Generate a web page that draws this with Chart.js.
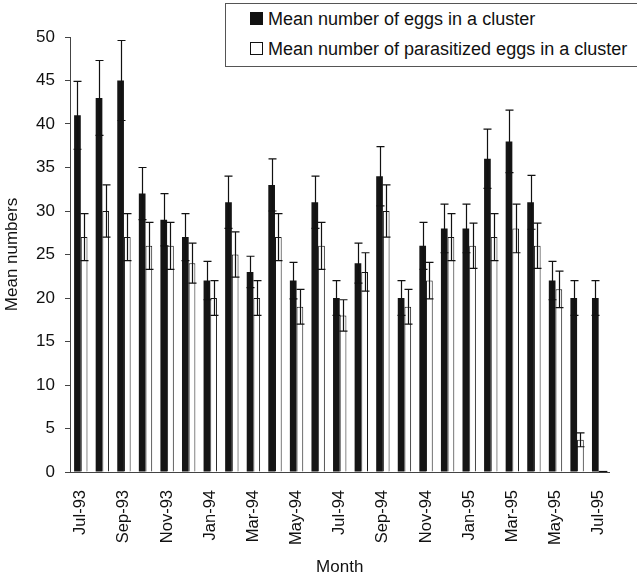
<!DOCTYPE html>
<html>
<head>
<meta charset="utf-8">
<script src="https://cdn.jsdelivr.net/npm/chart.js@4.4.1/dist/chart.umd.min.js"></script>
<style>
  html, body { margin: 0; padding: 0; background: #fff; overflow: hidden; }
  #wrap { position: relative; width: 637px; height: 582px; }
  #legend { position: absolute; left: 225px; top: 3px; width: 430px; height: 62px; border: 1px solid #555; background: #fff;
    font-family: "Liberation Sans", Arial, sans-serif; font-size: 18px; color: #111; }
  #legend div { position: absolute; left: 24px; white-space: nowrap; line-height: 20px; }
  #legend span.box { display: inline-block; width: 11px; height: 11px; border: 1px solid #111; margin-right: 5px; vertical-align: 0px; }
</style>
</head>
<body>
<div id="wrap">
  <canvas id="chart" width="637" height="582"></canvas>
  <div id="legend"></div>
</div>
<script>
const $ = id => document.getElementById(id);

// data
const months = ['Jul-93','Aug-93','Sep-93','Oct-93','Nov-93','Dec-93','Jan-94','Feb-94','Mar-94','Apr-94','May-94','Jun-94',
  'Jul-94','Aug-94','Sep-94','Oct-94','Nov-94','Dec-94','Jan-95','Feb-95','Mar-95','Apr-95','May-95','Jun-95','Jul-95'];
const eggs = [41, 43, 45, 32, 29, 27, 22, 31, 23, 33, 22, 31, 20, 24, 34, 20, 26, 28, 28, 36, 38, 31, 22, 20, 20];
const eggsErr = [3.9, 4.3, 4.6, 3.0, 3.0, 2.7, 2.2, 3.0, 1.8, 3.0, 2.1, 3.0, 2.0, 2.3, 3.4, 2.0, 2.7, 2.8, 2.8, 3.4, 3.6, 3.1, 2.2, 2.0, 2.0];
const parasit = [27, 30, 27, 26, 26, 24, 20, 25, 20, 27, 19, 26, 18, 23, 30, 19, 22, 27, 26, 27, 28, 26, 21, 3.7, 0];
const parasitErr = [2.7, 3.0, 2.7, 2.7, 2.7, 2.3, 2.0, 2.6, 2.0, 2.7, 2.0, 2.7, 1.8, 2.2, 3.0, 2.0, 2.1, 2.7, 2.6, 2.7, 2.8, 2.6, 2.1, 0.8, 0];
const yTicks = [0, 5, 10, 15, 20, 25, 30, 35, 40, 45, 50];

const seriesNames = ['Mean number of eggs in a cluster', 'Mean number of parasitized eggs in a cluster'];
const errs = [eggsErr, parasitErr];
const font = "'Liberation Sans', Arial, sans-serif";

// legend as html
$('legend').innerHTML = seriesNames.map((n, i) =>
  `<div style="top:${i ? 35 : 5}px"><span class="box" style="background:${i ? '#fff' : '#111'}"></span>${n}</div>`).join('');

const errorBars = {
  id: 'errorBars',
  afterDatasetsDraw(chart) {
    const ctx = chart.ctx, y = chart.scales.y;
    ctx.save();
    ctx.strokeStyle = '#111';
    ctx.lineWidth = 1.2;
    chart.data.datasets.forEach((ds, di) => {
      chart.getDatasetMeta(di).data.forEach((bar, i) => {
        const v = ds.data[i], e = errs[di][i], x = Math.round(bar.x) + 0.5;
        if (!e) {
          // zero bar: just the outline at the base
          if (di === 1 && v === 0) {
            const b = y.getPixelForValue(0);
            ctx.beginPath(); ctx.moveTo(bar.x - bar.width / 2, b - 0.5); ctx.lineTo(bar.x + bar.width / 2 + 2, b - 0.5); ctx.stroke();
          }
          return;
        }
        const t = y.getPixelForValue(v + e), b = y.getPixelForValue(Math.max(0, v - e));
        ctx.beginPath();
        ctx.moveTo(x, t); ctx.lineTo(x, b);
        ctx.moveTo(x - 4, t); ctx.lineTo(x + 4, t);
        ctx.moveTo(x - 4, b); ctx.lineTo(x + 4, b);
        ctx.stroke();
      });
    });
    ctx.restore();
  }
};

new Chart($('chart'), {
  type: 'bar',
  data: {
    labels: months,
    datasets: [
      { label: seriesNames[0], data: eggs, backgroundColor: '#151515', borderColor: '#151515', borderWidth: 0 },
      { label: seriesNames[1], data: parasit, backgroundColor: '#fff', borderColor: '#151515', borderWidth: 1 }
    ]
  },
  options: {
    responsive: false, animation: false,
    categoryPercentage: 0.62, barPercentage: 1,
    layout: { padding: { top: 37, right: 27, left: 0, bottom: 0 } },
    plugins: { legend: { display: false }, tooltip: { enabled: false } },
    scales: {
      x: {
        afterFit: s => { s.height = 110; },
        grid: { drawOnChartArea: false, drawTicks: false },
        border: { display: true, color: '#444', width: 1 },
        ticks: {
          autoSkip: false, maxRotation: 90, minRotation: 90, padding: 18,
          color: '#111', font: { family: font, size: 16.5 },
          callback: (v, i) => i % 2 ? '' : months[i]
        },
        title: { display: true, text: 'Month', color: '#111', font: { family: font, size: 17 }, padding: { top: 0, bottom: 4 } }
      },
      y: {
        min: 0, max: 50,
        afterBuildTicks: s => { s.ticks = yTicks.map(v => ({ value: v })); },
        afterFit: s => { s.width = 70; },
        grid: { drawOnChartArea: false, drawTicks: true, tickLength: 5, color: '#444' },
        border: { display: true, color: '#444', width: 1 },
        ticks: { color: '#111', font: { family: font, size: 17 }, padding: 10 },
        title: { display: true, text: 'Mean numbers', color: '#111', font: { family: font, size: 17 }, padding: { top: 2, bottom: 0 } }
      }
    }
  },
  plugins: [errorBars]
});
</script>
</body>
</html>
